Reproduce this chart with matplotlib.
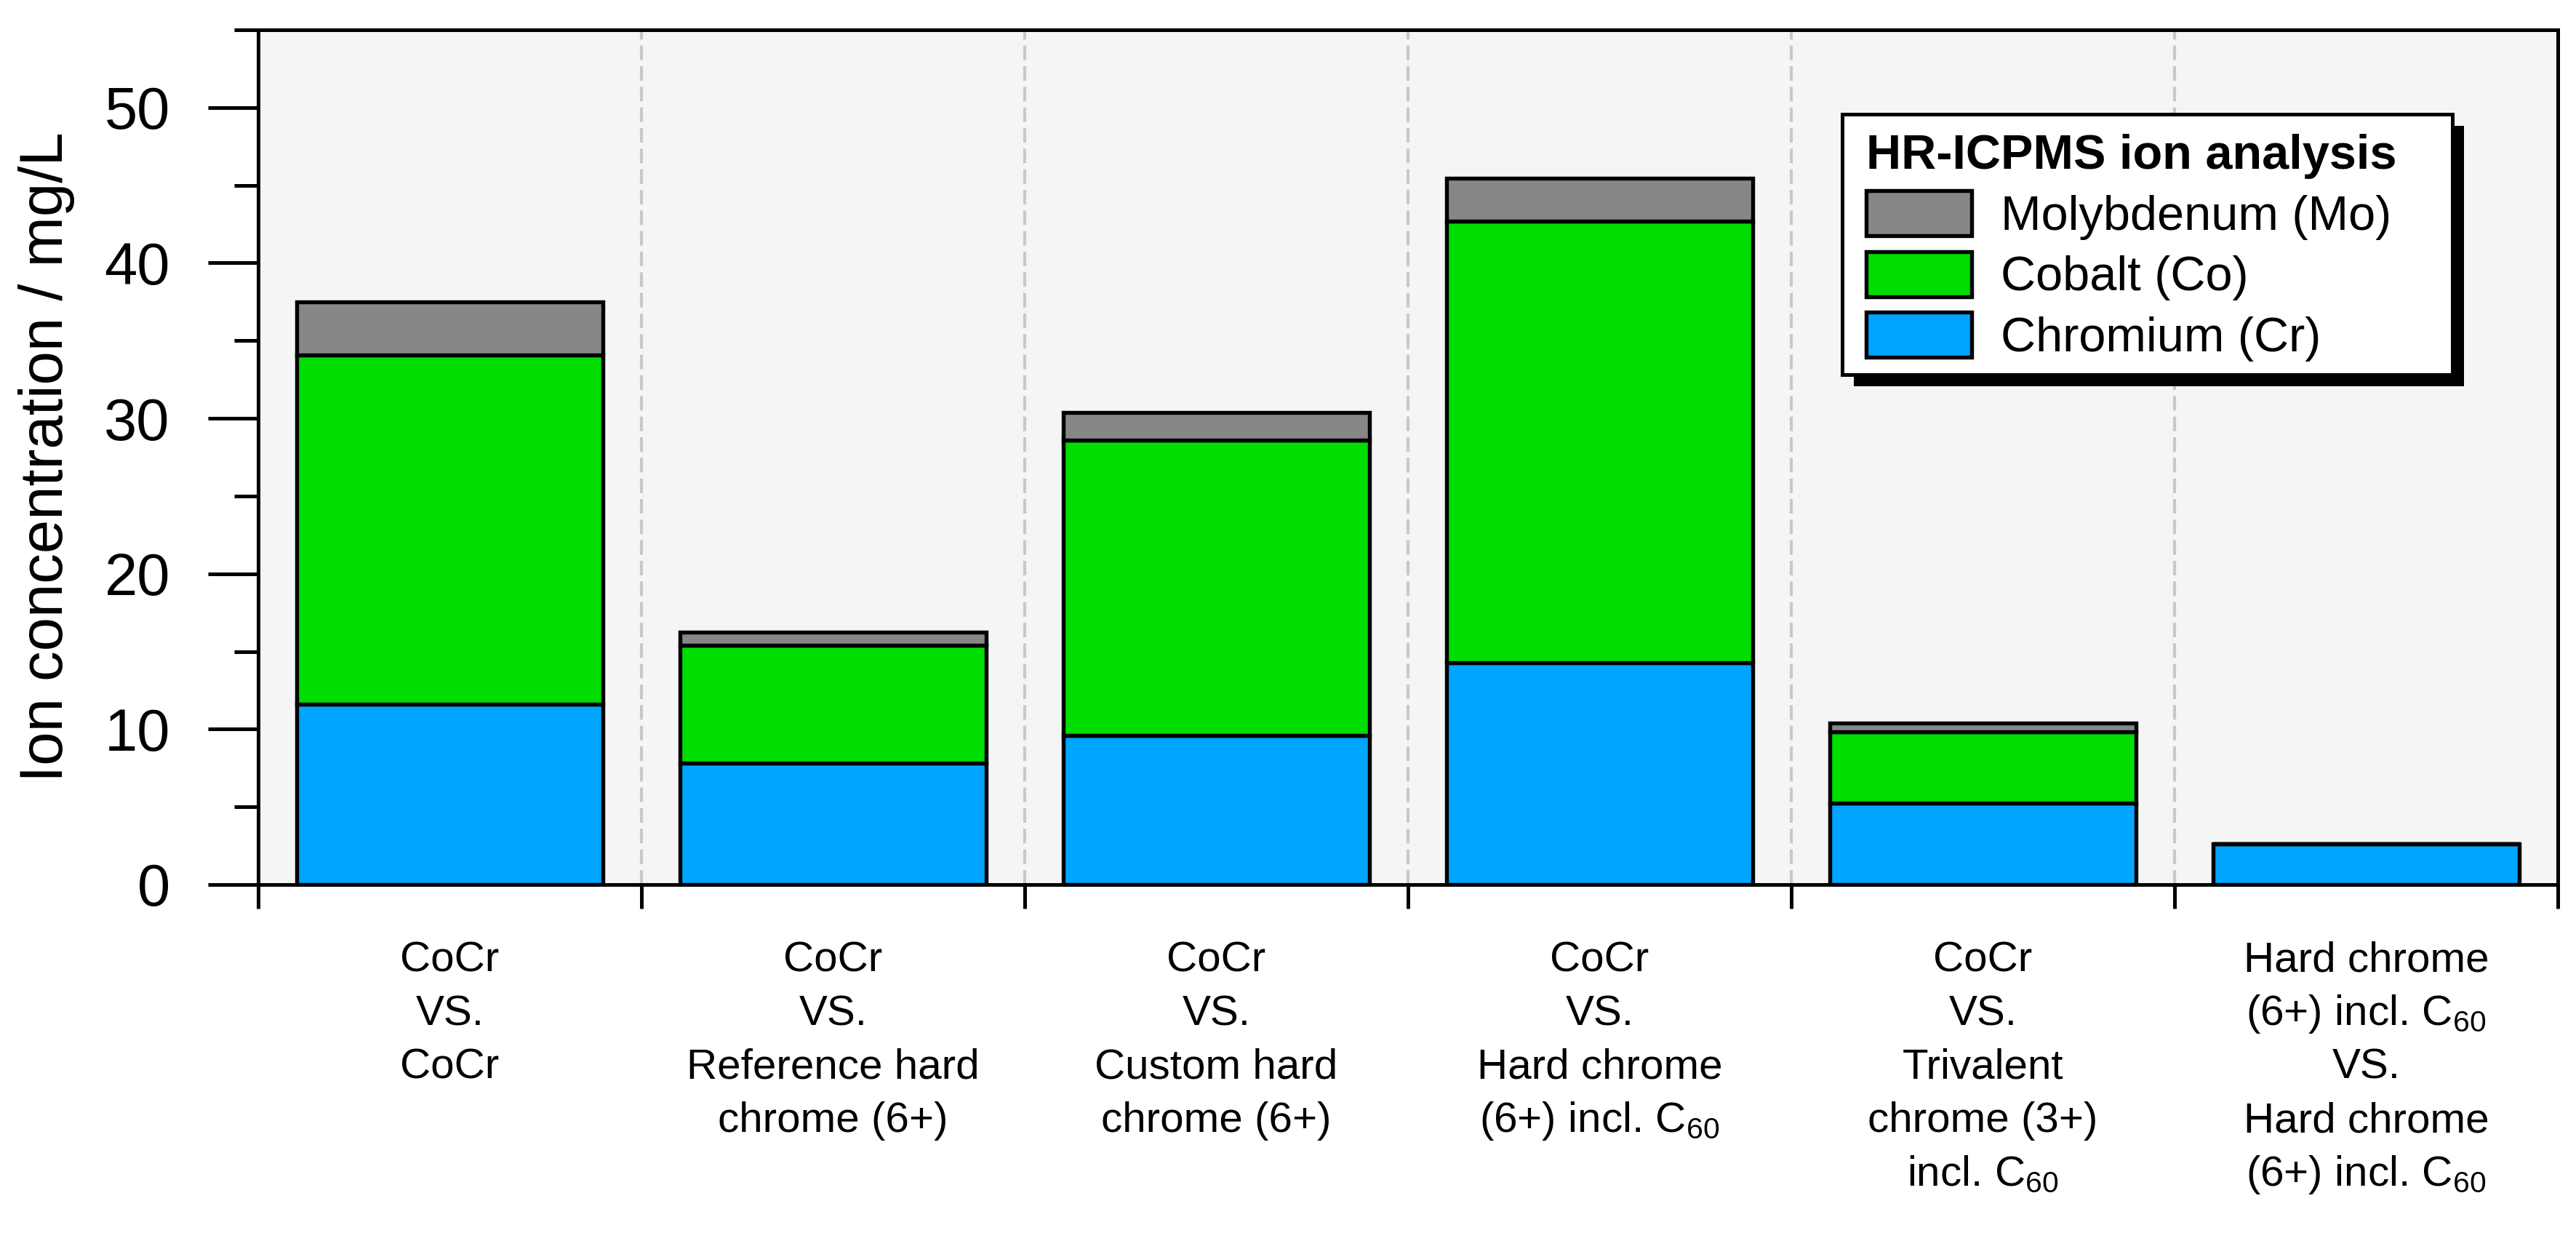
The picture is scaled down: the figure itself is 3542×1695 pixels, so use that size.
import matplotlib
matplotlib.use('Agg')
import matplotlib.pyplot as plt
from matplotlib.patches import Rectangle, Patch
from matplotlib.transforms import IdentityTransform
from matplotlib.ticker import FixedLocator, NullFormatter

plt.rcParams['font.family'] = ['Liberation Sans', 'DejaVu Sans']
plt.rcParams['mathtext.fontset'] = 'custom'
plt.rcParams['mathtext.rm'] = 'Liberation Sans'
plt.rcParams['mathtext.it'] = 'Liberation Sans:italic'
plt.rcParams['mathtext.bf'] = 'Liberation Sans:bold'
plt.rcParams['mathtext.default'] = 'regular'

# ---------------- data ----------------
categories = [
    ["CoCr", "VS.", "CoCr"],
    ["CoCr", "VS.", "Reference hard", "chrome (6+)"],
    ["CoCr", "VS.", "Custom hard", "chrome (6+)"],
    ["CoCr", "VS.", "Hard chrome", "(6+) incl. C$_{60}$"],
    ["CoCr", "VS.", "Trivalent", "chrome (3+)", "incl. C$_{60}$"],
    ["Hard chrome", "(6+) incl. C$_{60}$", "VS.", "Hard chrome", "(6+) incl. C$_{60}$"],
]
chromium = [11.6, 7.8, 9.6, 14.3, 5.25, 2.6]
cobalt = [22.5, 7.6, 19.0, 28.4, 4.6, 0.0]
molybdenum = [3.4, 0.85, 1.8, 2.75, 0.55, 0.0]
series_names = ["Chromium (Cr)", "Cobalt (Co)", "Molybdenum (Mo)"]
legend_title = "HR-ICPMS ion analysis"
y_label = "Ion concentration / mg/L"
y_major = [0, 10, 20, 30, 40, 50]
y_minor = [5, 15, 25, 35, 45, 55]

# ---------------- style ----------------
c_cr = '#00a5ff'
c_co = '#00dd00'
c_mo = '#878787'
W, H, DPI = 3542, 1695, 300

fig = plt.figure(figsize=(W / DPI, H / DPI), dpi=DPI)
ax = fig.add_axes([355 / W, 1 - 1216 / H, 3162 / W, (1216 - 41) / H])
ax.set_facecolor('#f5f5f5')

n = len(categories)
x = list(range(n))
bot_co = chromium
bot_mo = [a + b for a, b in zip(chromium, cobalt)]
bw = 0.8
elw = 1.3
ax.bar(x, chromium, width=bw, color=c_cr, edgecolor='k', linewidth=elw, zorder=3)
ax.bar(x, cobalt, width=bw, bottom=bot_co, color=c_co, edgecolor='k', linewidth=elw, zorder=3)
ax.bar(x, molybdenum, width=bw, bottom=bot_mo, color=c_mo, edgecolor='k', linewidth=elw, zorder=3)

ax.set_xlim(-0.5, n - 0.5)
ax.set_ylim(0, 55)

bounds = [i - 0.5 for i in range(n + 1)]
for b in bounds[1:-1]:
    ax.axvline(b, color='#c8c8c8', lw=1.0, ls=(0, (4.8, 2.0)), zorder=1)

for s in ax.spines.values():
    s.set_linewidth(1.2)

ax.set_yticks(y_major)
ax.yaxis.set_minor_locator(FixedLocator(y_minor))
ax.tick_params(axis='y', which='major', direction='out', length=16.6, width=1.2,
               pad=12.5, labelsize=19.5)
ax.tick_params(axis='y', which='minor', direction='out', length=8, width=1.2)
ax.set_xticks(bounds)
ax.xaxis.set_major_formatter(NullFormatter())
ax.tick_params(axis='x', which='major', direction='out', length=8, width=1.2)

ax.set_ylabel(y_label, fontsize=20)
ax.yaxis.set_label_coords((103 - 355) / 3162, 0.5)

for i, lines in enumerate(categories):
    for j, line in enumerate(lines):
        ax.annotate(line, xy=(i, 0), xycoords=('data', 'axes fraction'),
                    xytext=(0, -(120 + j * 73.4)), textcoords='offset pixels',
                    ha='center', va='baseline', fontsize=14, annotation_clip=False)

# ---------------- legend ----------------
handles = [Patch(facecolor=c_mo, edgecolor='k', linewidth=elw, joinstyle='round'),
           Patch(facecolor=c_co, edgecolor='k', linewidth=elw, joinstyle='round'),
           Patch(facecolor=c_cr, edgecolor='k', linewidth=elw, joinstyle='round')]
labels = [series_names[2], series_names[1], series_names[0]]
leg = ax.legend(handles, labels, title=legend_title, loc='upper left',
                bbox_to_anchor=(2566 / W, 1 - 184 / H), bbox_transform=fig.transFigure,
                borderaxespad=0, borderpad=0, fontsize=16,
                title_fontproperties={'weight': 'bold', 'size': 16},
                frameon=False,
                handlelength=2.17, handleheight=1.05, handletextpad=0.61,
                labelspacing=0.24, alignment='left')
leg.set_zorder(10)

fig.canvas.draw()
bb = leg.get_window_extent(fig.canvas.get_renderer())
fx0 = bb.x0 - 33
fy1 = bb.y1 + 27
fy0 = bb.y0 - 18
fw = 839
shadow = Rectangle((fx0 + 16, fy0 - 16), fw, fy1 - fy0,
                   transform=IdentityTransform(), facecolor='k', edgecolor='none',
                   zorder=9.8, clip_on=False)
frame = Rectangle((fx0, fy0), fw, fy1 - fy0,
                  transform=IdentityTransform(), facecolor='white', edgecolor='k',
                  linewidth=1.2, zorder=9.9, clip_on=False)
ax.add_artist(shadow)
ax.add_artist(frame)

fig.savefig('out.png', dpi=DPI, facecolor='white')
